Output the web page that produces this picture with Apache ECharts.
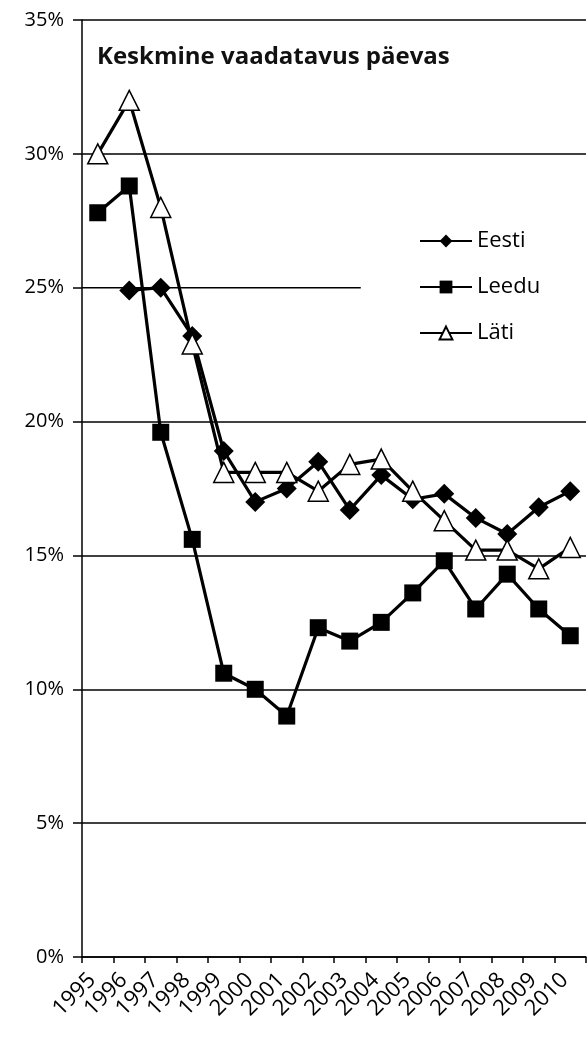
<!DOCTYPE html>
<html>
<head>
<meta charset="utf-8">
<script src="https://cdn.jsdelivr.net/npm/echarts@6/dist/echarts.min.js"></script>
<style>
  html, body { margin: 0; padding: 0; background: #fff; }
  #chart { width: 588px; height: 1043px; }
</style>
</head>
<body>
<div id="chart"></div>
<script>
const years = ['1995', '1996', '1997', '1998', '1999', '2000', '2001', '2002',
  '2003', '2004', '2005', '2006', '2007', '2008', '2009', '2010'];

// Eesti has no 1995 value
const eesti = [null, 24.9, 25.0, 23.2, 18.9, 17.0, 17.5, 18.5,
  16.7, 18.0, 17.1, 17.3, 16.4, 15.8, 16.8, 17.4];
const leedu = [27.8, 28.8, 19.6, 15.6, 10.6, 10.0, 9.0, 12.3,
  11.8, 12.5, 13.6, 14.8, 13.0, 14.3, 13.0, 12.0];
const lati = [30.0, 32.0, 28.0, 22.9, 18.1, 18.1, 18.1, 17.4,
  18.4, 18.6, 17.4, 16.3, 15.2, 15.2, 14.5, 15.3];

// the 25% gridline stops short of the legend
const line25 = [[0, 25], [8.85, 25]];

const chart = echarts.init(document.getElementById('chart'));
const font = '"Open Sans", sans-serif';

const lineSeries = (name, data, symbol, size, fill) => ({
  name,
  type: 'line',
  data,
  symbol,
  symbolSize: size,
  showAllSymbol: true,
  connectNulls: false,
  lineStyle: { color: '#000', width: 3.2 },
  itemStyle: { color: fill, borderColor: '#000', borderWidth: fill === '#fff' ? 1.5 : 0 },
  emphasis: { disabled: true },
  z: 3
});

chart.setOption({
  backgroundColor: '#fff',
  animation: false,
  title: {
    text: 'Keskmine vaadatavus päevas',
    left: 92,
    top: 40,
    textStyle: { fontFamily: font, fontSize: 24, fontWeight: 'bold', color: '#111' }
  },
  legend: {
    data: ['Eesti', 'Leedu', 'Läti'],
    orient: 'vertical',
    left: 414,
    top: 225,
    itemWidth: 52,
    itemHeight: 16,
    itemGap: 24,
    textStyle: { fontFamily: font, fontSize: 22, color: '#000' }
  },
  grid: { left: 82, right: 2, top: 20, bottom: 86, containLabel: false },
  xAxis: [
    {
      type: 'category',
      data: years,
      boundaryGap: true,
      axisLine: { lineStyle: { color: '#000', width: 1.5 } },
      axisTick: { show: true, length: 6, lineStyle: { color: '#000', width: 1.5 } },
      axisLabel: {
        rotate: 45,
        interval: 0,
        margin: 14,
        padding: [0, 8, 0, 0],
        fontFamily: font,
        fontSize: 22,
        color: '#000'
      },
      splitLine: { show: false }
    },
    { type: 'value', min: 0, max: 16, show: false }
  ],
  yAxis: {
    type: 'value',
    min: 0,
    max: 35,
    interval: 5,
    axisLine: { show: true, lineStyle: { color: '#000', width: 1.5 } },
    axisTick: { show: true, length: 9, lineStyle: { color: '#000', width: 1.5 } },
    axisLabel: {
      formatter: '{value}%',
      margin: 18,
      fontFamily: font,
      fontSize: 20,
      color: '#000'
    },
    splitLine: {
      show: true,
      lineStyle: {
        color: ['#000', '#000', '#000', '#000', '#000', 'rgba(0,0,0,0)', '#000', '#000'],
        width: 1.5
      }
    }
  },
  series: [
    {
      name: 'grid25',
      type: 'line',
      xAxisIndex: 1,
      data: line25,
      symbol: 'none',
      silent: true,
      lineStyle: { color: '#000', width: 1.5 },
      z: 1
    },
    lineSeries('Eesti', eesti, 'diamond', 20, '#000'),
    lineSeries('Leedu', leedu, 'rect', 17, '#000'),
    lineSeries('Läti', lati, 'triangle', 20, '#fff')
  ]
});
</script>
</body>
</html>
